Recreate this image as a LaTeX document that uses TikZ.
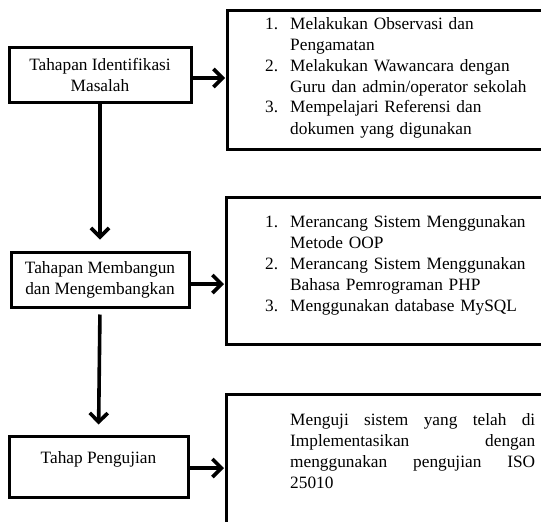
\documentclass[tikz,border=0pt]{standalone}
\usepackage{fontspec}
\setmainfont{Liberation Serif}
\usetikzlibrary{arrows.meta}

\tikzset{
  txt/.style={font={\fontsize{17.3pt}{21pt}\selectfont}, inner sep=0pt},
  stage/.style={draw=black, line width=3pt, fill=white, align=center, txt},
  panel/.style={draw=black, line width=3pt, anchor=north west, inner sep=0pt},
  listtext/.style={txt, anchor=base west, text width=280pt, align=left},
  flow/.style={line width=3.6pt, -{Straight Barb[length=9pt, width=18pt]}},
}
\newcommand{\numitem}[1]{\makebox[25pt][l]{#1}}
\newcommand{\cont}{\hspace*{25pt}}

\begin{document}
\begin{tikzpicture}[x=1pt, y=-1pt]
  \useasboundingbox (0,0) rectangle (541,522);
  \clip (0,0) rectangle (541,522);

  % stages on the left
  \node[stage, minimum width=182pt, minimum height=55pt] (s1) at (100,74.5)
    {Tahapan Identifikasi\\Masalah};
  \node[stage, minimum width=178pt, minimum height=55pt] (s2) at (100,279.5)
    {Tahapan Membangun\\dan Mengembangkan};
  \node[stage, minimum width=179pt, minimum height=61pt] (s3) at (98.5,466.5) {};
  \node[txt, anchor=base] (s3t) at (98.5,463) {Tahap Pengujian};

  % detail panels on the right (run past the right edge)
  \node[panel, minimum width=334pt, minimum height=139pt] (r1) at (226,9) {};
  \node[panel, minimum width=335pt, minimum height=147pt] (r2) at (225,196) {};
  \node[panel, minimum width=335pt, minimum height=150pt] (r3) at (225,393) {};

  % panel contents
  \node[listtext] (l1) at (265,29) {%
    \numitem{1.}Melakukan Observasi dan\\
    \cont Pengamatan\\
    \numitem{2.}Melakukan Wawancara dengan\\
    \cont Guru dan admin/operator sekolah\\
    \numitem{3.}Mempelajari Referensi dan\\
    \cont dokumen yang digunakan};
  \node[listtext] (l2) at (265,227) {%
    \numitem{1.}Merancang Sistem Menggunakan\\
    \cont Metode OOP\\
    \numitem{2.}Merancang Sistem Menggunakan\\
    \cont Bahasa Pemrograman PHP\\
    \numitem{3.}Menggunakan database MySQL};
  \node[txt, anchor=base west, text width=245pt, align=justify] (l3) at (290,425) {%
    Menguji sistem yang telah di\linebreak
    Implementasikan dengan\linebreak
    menggunakan pengujian ISO\linebreak
    25010};

  % flow between stages
  \draw[flow, shorten >=11pt] (s1.south) -- (s2.north);
  \draw[flow, shorten <=6pt, shorten >=10pt] (s2.south) -- (s3.north);

  % stage to panel
  \draw[flow, shorten >=1pt] ([yshift=-3.5pt]s1.east) -- ([yshift=-3.5pt]s1.east -| r1.west);
  \draw[flow, shorten >=1pt] ([yshift=-4.5pt]s2.east) -- ([yshift=-4.5pt]s2.east -| r2.west);
  \draw[flow, shorten >=1pt] ([yshift=-1.5pt]s3.east) -- ([yshift=-1.5pt]s3.east -| r3.west);
\end{tikzpicture}
\end{document}
